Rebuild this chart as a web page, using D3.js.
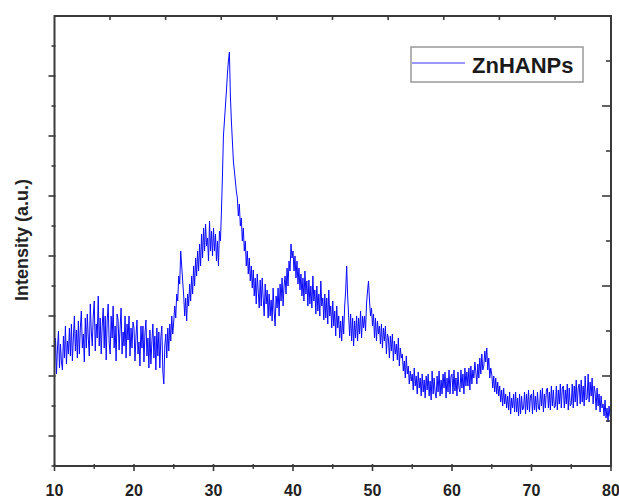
<!DOCTYPE html>
<html><head><meta charset="utf-8">
<script src="https://cdn.jsdelivr.net/npm/d3@7"></script>
<style>body{margin:0;background:#fff}svg{display:block}</style>
</head><body>
<script>
// 2-theta sampling (degrees)
const thetaStart = 10, thetaStep = 0.125;
// Intensity (a.u.), 8 samples per degree, 10..80
const intensity = [
100,128,92,118,135,98,122,104,
96,130,108,140,102,125,112,138,
110,142,105,128,150,115,136,108,
145,112,138,155,118,132,104,148,
118,152,128,110,162,135,120,150,
165,115,142,128,170,120,148,112,
140,158,118,150,106,145,162,124,
112,150,128,160,118,140,105,152,
146,116,138,158,112,134,120,150,
108,142,126,150,110,138,118,144,
138,105,130,146,112,124,100,140,
118,140,104,132,146,110,128,98,
136,102,124,142,108,130,96,138,
110,134,98,128,140,95,82,120,
132,108,138,115,142,125,150,132,
145,160,148,172,165,190,182,215,
200,185,170,150,168,145,172,160,
182,165,190,172,200,180,208,190,
215,195,222,200,232,208,238,215,
242,220,228,205,245,215,235,210,
238,215,232,205,225,200,235,225,
255,290,330,345,360,375,392,405,
414,370,345,325,305,295,285,275,
268,250,262,240,248,225,238,215,
225,200,215,192,208,185,200,178,
196,170,188,162,192,175,158,186,
160,188,168,150,182,162,176,148,
172,150,166,145,178,155,140,170,
158,178,150,182,165,188,160,180,
190,172,198,180,205,195,222,208,
215,195,210,188,205,182,198,176,
192,170,188,165,195,172,185,160,
186,162,180,158,190,165,176,152,
180,155,172,150,185,160,168,146,
172,148,168,142,176,150,160,138,
165,140,155,130,160,138,150,128,
145,125,150,132,160,175,200,170,
150,130,152,125,148,120,145,128,
150,125,148,132,155,128,150,138,
150,135,162,175,185,165,150,158,
140,152,128,148,125,145,132,140,
122,142,118,138,125,140,112,132,
128,108,130,115,132,105,125,112,
122,106,128,100,118,108,112,95,
105,88,110,92,100,82,95,85,
92,76,98,80,90,72,94,78,
88,70,92,74,86,68,90,76,
92,70,85,66,95,72,88,74,
68,90,74,95,70,86,72,92,
78,94,68,88,74,96,72,90,
92,72,96,75,88,70,94,78,
74,96,78,92,72,98,80,94,
80,98,76,100,82,96,88,104,
94,82,102,88,108,92,112,96,
100,115,104,118,96,108,88,98,
92,78,90,74,88,72,84,70,
80,64,76,60,78,62,72,58,
70,56,74,52,68,58,72,54,
74,54,68,50,72,52,70,56,
58,74,52,72,56,76,54,70,
72,52,76,56,70,54,74,58,
56,76,60,78,54,72,58,76,
78,58,74,56,80,60,76,58,
60,80,56,76,62,82,58,78,
80,58,76,62,82,56,78,60,
62,82,58,80,64,86,60,78,
82,62,86,64,80,60,90,66,
68,92,64,84,70,88,62,80,
74,56,78,60,72,54,70,58,
62,50,66,48,58,44,60,50,
48
];
const xTicks = [10,20,30,40,50,60,70,80];
const xMinor = [15,25,35,45,55,65,75];
const seriesName = "ZnHANPs";

const W = 619, H = 498;
const m = {l:54.5, r:611, t:16, b:466};
const svg = d3.select("body").append("svg").attr("width",W).attr("height",H);

const x = d3.scaleLinear().domain([10,80]).range([m.l,m.r]);
const y = d3.scaleLinear().domain([0,450]).range([m.b,m.t]);

const data = intensity.map((v,i)=>({t:thetaStart+i*thetaStep, v}));

// curve
svg.append("path").datum(data)
  .attr("fill","none").attr("stroke","#0a0aff").attr("stroke-width",1)
  .attr("stroke-linejoin","round")
  .attr("d", d3.line().x(d=>x(d.t)).y(d=>y(d.v)));

const axCol = "#3a3a3a";
// frame
svg.append("rect").attr("x",m.l).attr("y",m.t).attr("width",m.r-m.l).attr("height",m.b-m.t)
  .attr("fill","none").attr("stroke",axCol).attr("stroke-width",2);

// bottom axis
const gb = svg.append("g");
gb.selectAll(".maj").data(xTicks).join("line").attr("class","maj")
  .attr("x1",d=>x(d)).attr("x2",d=>x(d)).attr("y1",m.b-2).attr("y2",m.b+5)
  .attr("stroke",axCol).attr("stroke-width",1.6);
gb.selectAll(".min").data(xMinor).join("line").attr("class","min")
  .attr("x1",d=>x(d)).attr("x2",d=>x(d)).attr("y1",m.b-2).attr("y2",m.b+3)
  .attr("stroke",axCol).attr("stroke-width",1.4);
gb.selectAll("text").data(xTicks).join("text")
  .attr("x",d=>x(d)).attr("y",496).attr("text-anchor","middle")
  .attr("font-family","Liberation Sans, Arial, sans-serif").attr("font-weight","bold")
  .attr("font-size",16).attr("fill","#222").text(d=>d);

// left ticks (no labels)
const yl = d3.scaleLinear().domain([0,14]).range([466,46]);
const leftT = d3.range(0,15);
svg.selectAll(".lt").data(leftT).join("line").attr("class","lt")
  .attr("x1",d=> (d%2===1)? m.l-6 : m.l-3).attr("x2",m.l+1)
  .attr("y1",d=>yl(d)).attr("y2",d=>yl(d))
  .attr("stroke",axCol).attr("stroke-width",1.6);

// right ticks (inward)
const yr = d3.scaleLinear().domain([0,10]).range([466,16]);
const rightT = d3.range(1,10);
svg.selectAll(".rt").data(rightT).join("line").attr("class","rt")
  .attr("x1",d=> (d%2===0)? m.r-9 : m.r-5).attr("x2",m.r)
  .attr("y1",d=>yr(d)).attr("y2",d=>yr(d))
  .attr("stroke",axCol).attr("stroke-width",1.6);

// top ticks (inward)
const xt = d3.scaleLinear().domain([0,8]).range([110,555]);
svg.selectAll(".tt").data(d3.range(0,9)).join("line").attr("class","tt")
  .attr("x1",d=>xt(d)).attr("x2",d=>xt(d)).attr("y1",m.t).attr("y2",m.t+4)
  .attr("stroke",axCol).attr("stroke-width",1.6);

// y label
svg.append("text").attr("transform","translate(28,240) rotate(-90)")
  .attr("text-anchor","middle")
  .attr("font-family","Liberation Sans, Arial, sans-serif").attr("font-weight","bold")
  .attr("font-size",18).attr("fill","#222").text("Intensity (a.u.)");

// legend
const lg = svg.append("g");
lg.append("rect").attr("x",411).attr("y",47).attr("width",172).attr("height",35)
  .attr("fill","#fff").attr("stroke","#999").attr("stroke-width",1.5);
lg.append("line").attr("x1",412).attr("x2",465).attr("y1",63).attr("y2",63)
  .attr("stroke","#3030ff").attr("stroke-width",1);
lg.append("text").attr("x",472).attr("y",73)
  .attr("font-family","Liberation Sans, Arial, sans-serif").attr("font-weight","bold")
  .attr("font-size",22).attr("fill","#1a1a1a").text(seriesName);
</script>
</body></html>
